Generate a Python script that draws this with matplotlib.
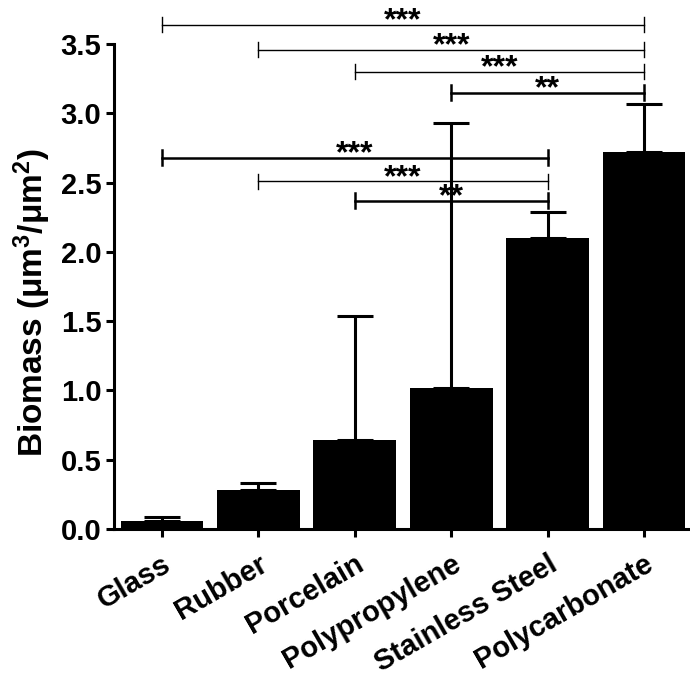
import numpy as np
import matplotlib
matplotlib.use('Agg')
import matplotlib.pyplot as plt

plt.rcParams['font.family'] = ['Liberation Sans', 'DejaVu Sans']
plt.rcParams['font.weight'] = 'bold'
plt.rcParams['mathtext.fontset'] = 'custom'
plt.rcParams['mathtext.rm'] = 'Liberation Sans:bold'
plt.rcParams['mathtext.it'] = 'Liberation Sans:bold'
plt.rcParams['mathtext.bf'] = 'Liberation Sans:bold'

materials = ['Glass', 'Rubber', 'Porcelain', 'Polypropylene', 'Stainless Steel', 'Polycarbonate']
biomass = [0.06, 0.28, 0.64, 1.02, 2.10, 2.72]
err_up = [0.025, 0.05, 0.90, 1.91, 0.19, 0.35]

# significance brackets: (from index, to index, height, label, thick?)
sig_from = [0, 1, 2, 3, 0, 1, 2]
sig_to = [5, 5, 5, 5, 4, 4, 4]
sig_y = [3.64, 3.46, 3.30, 3.15, 2.68, 2.51, 2.37]
sig_text = ['***', '***', '***', '**', '***', '***', '**']
sig_thick = [False, False, False, True, True, False, True]

fig = plt.figure(figsize=(6.9, 6.84), dpi=100)
ax = fig.add_axes([0.165, 0.2266, 0.832, 0.7534])

x = np.arange(len(materials))
ax.bar(x, biomass, width=0.86, color='black', zorder=2)
ax.errorbar(x, biomass, yerr=[np.zeros(len(x)), err_up], fmt='none',
            ecolor='black', elinewidth=2.2, capsize=13, capthick=2.2, zorder=3)

cap = 0.055
for i, j, y, t, thick in zip(sig_from, sig_to, sig_y, sig_text, sig_thick):
    lw = 1.8 if thick else 1.0
    ax.plot([x[i], x[j]], [y, y], color='black', lw=lw, clip_on=False, zorder=4)
    ax.plot([x[i], x[i]], [y - cap, y + cap], color='black', lw=lw, clip_on=False, zorder=4)
    ax.plot([x[j], x[j]], [y - cap, y + cap], color='black', lw=lw, clip_on=False, zorder=4)
    ax.text((x[i] + x[j]) / 2, y - 0.035, t, ha='center', va='baseline',
            fontsize=23, fontweight='bold', zorder=5)

ax.set_xlim(-0.50, 5.456)
ax.set_ylim(0, 3.72)
ax.set_yticks(np.arange(0, 3.51, 0.5))
ax.set_yticklabels(['%.1f' % v for v in np.arange(0, 3.51, 0.5)])
ax.set_xticks(x)
ax.set_xticklabels(materials, rotation=30, ha='right', rotation_mode='anchor')

for side in ['top', 'right']:
    ax.spines[side].set_visible(False)
for side in ['left', 'bottom']:
    ax.spines[side].set_linewidth(2.2)
ax.spines['left'].set_bounds(0, 3.5)

ax.tick_params(axis='both', width=2.2, length=6, labelsize=21, direction='out')
ax.tick_params(axis='x', pad=9)
ax.tick_params(axis='y', pad=3)

ax.set_ylabel('Biomass (μm$^3$/μm$^2$)', fontsize=24, fontweight='bold')
ax.yaxis.set_label_coords(-0.106, 0.44)

fig.savefig('out.png', dpi=100)
